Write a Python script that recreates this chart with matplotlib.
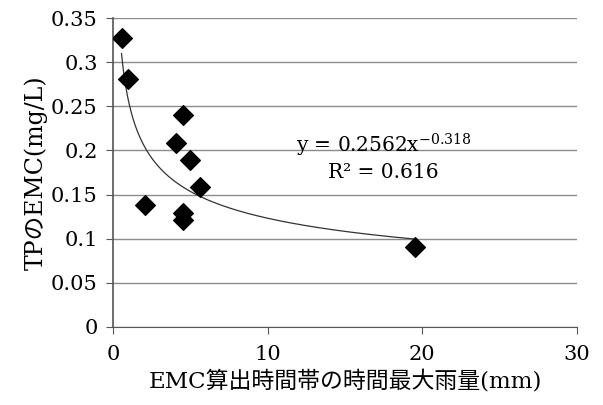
import numpy as np
import matplotlib
matplotlib.use('Agg')
import matplotlib.pyplot as plt

plt.rcParams['font.family'] = ['DejaVu Serif', 'Noto Sans CJK JP']
plt.rcParams['mathtext.fontset'] = 'dejavuserif'

# data
rain_max = [0.55, 1.0, 2.1, 4.1, 4.5, 5.0, 5.6, 4.5, 4.5, 19.5]
tp_emc = [0.327, 0.281, 0.138, 0.208, 0.240, 0.189, 0.159, 0.129, 0.121, 0.091]
fit_a = 0.2562
fit_b = -0.318
r2 = 0.616

fig = plt.figure(figsize=(6.03, 4.05), dpi=100)
ax = fig.add_axes([113/603, 1 - 327/405, 464/603, 309/405])

ax.scatter(rain_max, tp_emc, marker='D', s=100, color='black', zorder=3)

xf = np.linspace(min(rain_max), max(rain_max), 300)
ax.plot(xf, fit_a * xf ** fit_b, color='#333333', lw=0.9, zorder=2)

ax.text(17.5, 0.206, 'y = %.4fx$^{%.3f}$' % (fit_a, fit_b), ha='center', va='center', fontsize=14.5)
ax.text(17.5, 0.1755, 'R² = %.3f' % r2, ha='center', va='center', fontsize=14.5)

ax.set_xlim(0, 30)
ax.set_ylim(0, 0.35)
ax.set_xticks([0, 10, 20, 30])
ax.set_yticks(np.arange(0, 0.351, 0.05))
ax.set_yticklabels(['0', '0.05', '0.1', '0.15', '0.2', '0.25', '0.3', '0.35'])
ax.grid(axis='y', color='#8c8c8c', lw=1)
ax.set_axisbelow(True)
for s in ['top', 'right']:
    ax.spines[s].set_visible(False)
ax.spines['left'].set_color('#555555')
ax.spines['bottom'].set_color('#555555')
ax.spines['left'].set_linewidth(1.2)
ax.tick_params(labelsize=15, length=5, color='#555555')
ax.tick_params(axis='x', pad=8)
ax.tick_params(axis='y', pad=6)

ax.set_xlabel('EMC算出時間帯の時間最大雨量(mm)', fontsize=16.5, labelpad=4)
ax.set_ylabel('TPのEMC(mg/L)', fontsize=17, labelpad=2)

fig.savefig('out.png', dpi=100)
